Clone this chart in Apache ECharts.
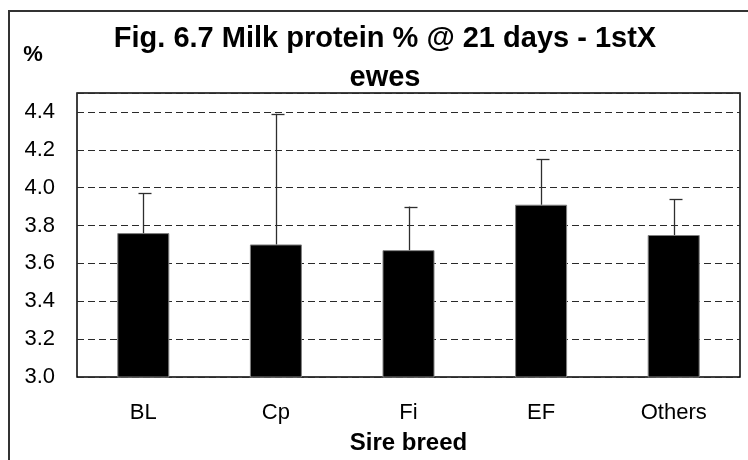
<!DOCTYPE html>
<html>
<head>
<meta charset="utf-8">
<script src="https://cdn.jsdelivr.net/npm/echarts@6/dist/echarts.min.js"></script>
<style>
html,body{margin:0;padding:0;background:#fff;}
#chart{width:748px;height:460px;}
</style>
</head>
<body>
<div id="chart"></div>
<script>
// ---- data ----
const categories = ['BL', 'Cp', 'Fi', 'EF', 'Others'];
const means = [3.76, 3.70, 3.67, 3.91, 3.75];
const upperErr = [3.97, 4.39, 3.90, 4.15, 3.94];
const yTicks = [3.0, 3.2, 3.4, 3.6, 3.8, 4.0, 4.2, 4.4];
const titleLine1 = 'Fig. 6.7 Milk protein % @ 21 days - 1stX';
const titleLine2 = 'ewes';
const yAxisTitle = '%';
const xAxisTitle = 'Sire breed';

const FONT = '"Liberation Sans", Arial, sans-serif';
const chart = echarts.init(document.getElementById('chart'), null, {renderer: 'canvas'});

const errData = categories.map((c, i) => [i, means[i], upperErr[i]]);

chart.setOption({
  animation: false,
  backgroundColor: '#fff',
  grid: {
    left: 77, right: 8, top: 93, bottom: 83,
    show: true, borderColor: '#000', borderWidth: 1.5, backgroundColor: 'transparent'
  },
  xAxis: {
    type: 'category',
    data: categories,
    axisLine: {show: false},
    axisTick: {show: false},
    axisLabel: {color: '#000', fontSize: 22, fontFamily: FONT, margin: 25},
    name: xAxisTitle,
    nameLocation: 'middle',
    nameGap: 54,
    nameTextStyle: {color: '#000', fontSize: 24, fontWeight: 'bold', fontFamily: FONT}
  },
  yAxis: {
    type: 'value',
    min: yTicks[0],
    max: 4.5,
    interval: 0.2,
    axisLine: {show: false},
    axisTick: {show: false},
    axisLabel: {
      color: '#000', fontSize: 22, fontFamily: FONT, margin: 22,
      formatter: v => (yTicks.some(t => Math.abs(t - v) < 1e-6) ? v.toFixed(1) : '')
    },
    splitLine: {show: true, lineStyle: {color: '#2a2a2a', width: 1, type: [7, 4]}}
  },
  series: [
    {
      type: 'bar',
      data: means,
      barWidth: 52,
      itemStyle: {color: '#000', borderColor: '#808080', borderWidth: 1},
      z: 3
    },
    {
      type: 'custom',
      data: errData,
      z: 4,
      renderItem: function (params, api) {
        const base = api.coord([api.value(0), api.value(1)]);
        const top = api.coord([api.value(0), api.value(2)]);
        const x = Math.round(base[0]) + 0.5;
        const style = {stroke: '#2e2e2e', lineWidth: 1.3};
        return {
          type: 'group',
          children: [
            {type: 'line', shape: {x1: x, y1: base[1], x2: x, y2: top[1]}, style: style},
            {type: 'line', shape: {x1: x - 5, y1: Math.round(top[1]) + 0.5, x2: x + 8, y2: Math.round(top[1]) + 0.5}, style: style}
          ]
        };
      }
    }
  ],
  graphic: [
    {type: 'rect', shape: {x: 9, y: 11, width: 760, height: 470}, style: {fill: 'none', stroke: '#333', lineWidth: 2}, silent: true},
    {type: 'text', x: 385, y: 39, style: {text: titleLine1, fill: '#000', font: 'bold 29px ' + FONT, textAlign: 'center', textVerticalAlign: 'middle'}},
    {type: 'text', x: 385, y: 78, style: {text: titleLine2, fill: '#000', font: 'bold 29px ' + FONT, textAlign: 'center', textVerticalAlign: 'middle'}},
    {type: 'text', x: 33, y: 55, style: {text: yAxisTitle, fill: '#000', font: 'bold 22px ' + FONT, textAlign: 'center', textVerticalAlign: 'middle'}}
  ]
});
</script>
</body>
</html>
